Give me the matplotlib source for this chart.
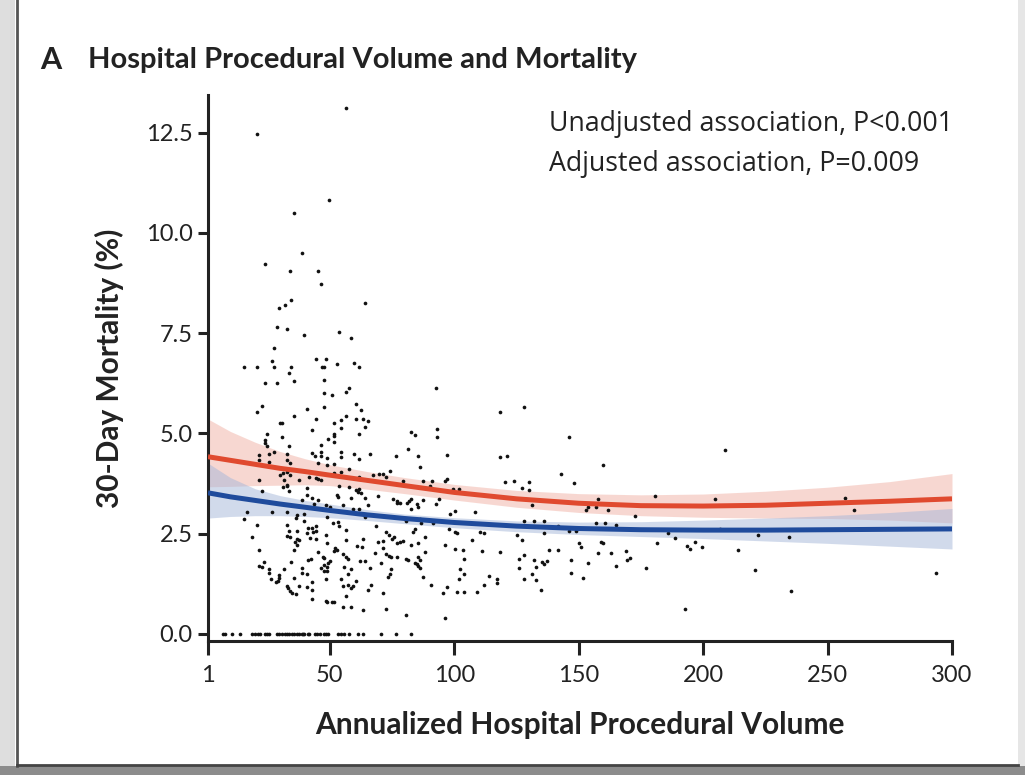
import matplotlib
matplotlib.use('Agg')
import matplotlib.pyplot as plt
from matplotlib.patches import Rectangle
from matplotlib.lines import Line2D

# hospitals with zero deaths (annualized volume)
zero_vol = [7.0, 7.8, 10.6, 13.9, 18.7, 19.9, 21.1, 21.9, 23.9, 24.7, 25.5, 28.7, 29.5,
            30.7, 31.9, 32.8, 33.6, 34.8, 35.6, 36.8, 37.6, 38.8, 39.2, 39.6, 41.3, 41.6,
            44.0, 44.8, 46.0, 47.6, 48.4, 49.2, 53.3, 54.5, 55.7, 57.7, 61.3, 63.3, 70.5,
            76.6, 82.6]

# (volume, 30-day mortality %) for the other hospitals
pts_high = [(56.5, 13.12), (20.7, 12.47), (49.6, 10.83), (35.6, 10.5), (38.8, 9.5),
            (23.9, 9.23), (34.0, 9.05), (45.2, 9.05), (46.4, 8.73), (34.4, 8.33),
            (31.9, 8.2), (29.5, 8.13), (64.1, 8.26), (28.7, 7.66), (32.8, 7.61),
            (39.6, 7.46), (53.7, 7.53), (58.5, 7.38)]

pts_left = [(27.5, 7.13), (15.5, 6.66), (20.7, 6.66), (26.7, 6.81), (27.5, 6.66), (34.4, 6.66),
            (33.6, 6.51), (44.4, 6.86), (48.4, 6.86), (46.8, 6.66), (47.6, 6.66), (35.6, 6.31),
            (23.9, 6.26), (28.7, 6.26), (47.6, 6.33), (47.6, 6.01), (22.7, 5.69), (20.7, 5.54),
            (40.8, 5.61), (47.6, 5.66), (35.6, 5.44), (44.4, 5.36), (29.9, 5.26), (30.7, 5.26),
            (42.8, 5.09), (24.7, 4.99), (30.7, 4.91), (23.9, 4.84), (23.9, 4.76), (24.7, 4.69),
            (33.6, 4.69), (49.2, 4.86), (46.4, 4.71), (21.5, 4.46), (21.5, 4.34), (25.5, 4.49),
            (27.5, 4.54), (25.5, 4.29), (32.8, 4.49), (32.8, 4.34), (42.8, 4.51), (44.0, 4.44),
            (46.4, 4.54), (46.4, 4.44), (48.8, 4.39), (34.0, 4.26), (45.2, 4.26), (48.8, 4.21),
            (29.9, 3.97), (31.1, 4.02), (32.8, 4.04), (34.0, 3.97), (31.5, 3.84), (37.6, 3.84),
            (41.6, 3.92), (44.4, 3.89), (45.2, 3.87), (21.5, 3.84), (40.8, 3.64), (31.1, 3.67),
            (32.8, 3.72)]

pts_mid = [(52.8, 6.73), (59.7, 6.76), (61.7, 6.66), (50.8, 5.96), (56.5, 6.04), (57.7, 6.14),
           (92.6, 6.14), (60.5, 5.74), (62.5, 5.59), (51.6, 5.26), (54.5, 5.34), (56.5, 5.44),
           (60.5, 5.36), (63.3, 5.36), (65.3, 5.31), (64.1, 5.16), (54.5, 5.14), (61.7, 4.99),
           (51.6, 4.99), (51.6, 4.94), (51.6, 4.79), (82.6, 5.04), (84.2, 4.96), (93.0, 5.11),
           (93.0, 4.91), (81.4, 4.61), (54.5, 4.54), (54.5, 4.41), (59.7, 4.49), (61.7, 4.36),
           (66.1, 4.49), (76.6, 4.44), (85.4, 4.44), (97.1, 4.46), (51.6, 4.24), (57.7, 4.11),
           (86.2, 4.16), (54.5, 4.04), (51.6, 4.02), (74.2, 4.06), (67.3, 3.97), (69.7, 3.99),
           (71.3, 3.99), (72.5, 3.92), (61.7, 3.92), (46.4, 3.84), (79.4, 3.82), (87.4, 3.82),
           (91.0, 3.82), (96.3, 3.82), (97.1, 3.87), (53.7, 3.69), (57.7, 3.67), (61.7, 3.62),
           (90.2, 3.69), (99.5, 3.62), (101.9, 3.62)]

pts_low_left = [(22.7, 3.57), (32.8, 3.69), (33.6, 3.57), (38.8, 3.34), (40.8, 3.47), (42.8, 3.39),
                (45.2, 3.34), (43.6, 3.24), (16.7, 3.04), (15.5, 2.87), (26.7, 3.04), (32.8, 3.04),
                (36.4, 2.89), (36.8, 2.97), (39.6, 2.99), (39.6, 2.82), (20.7, 2.72), (32.8, 2.72),
                (18.7, 2.42), (33.6, 2.57), (36.8, 2.57), (32.8, 2.44), (34.0, 2.42), (36.8, 2.37),
                (36.0, 2.29), (37.6, 2.34), (35.6, 2.09), (36.8, 2.22), (41.2, 2.64), (42.8, 2.64),
                (43.2, 2.54), (44.4, 2.57), (40.8, 2.52), (42.0, 2.39), (44.4, 2.37), (44.4, 2.69),
                (48.4, 2.47), (48.8, 2.27), (21.5, 2.09), (45.2, 2.05), (41.2, 1.85), (42.4, 1.87),
                (47.2, 1.92), (34.4, 1.80), (23.5, 1.80), (21.5, 1.70), (22.7, 1.67), (25.5, 1.62),
                (25.5, 1.52), (31.5, 1.62), (38.8, 1.65), (38.8, 1.52), (40.8, 1.50), (46.4, 1.65),
                (47.6, 1.57), (48.8, 1.57), (29.5, 1.47), (29.5, 1.40), (29.1, 1.32), (28.3, 1.30),
                (26.3, 1.37), (35.6, 1.40), (42.8, 1.30), (48.4, 1.37), (37.6, 1.20), (40.8, 1.17),
                (32.8, 1.20), (33.2, 1.15), (34.0, 1.07), (34.8, 1.02), (36.4, 1.00), (42.8, 1.10),
                (42.8, 0.87), (48.8, 0.80)]

pts_low_mid = [(60.5, 3.59), (61.3, 3.54), (62.5, 3.52), (64.1, 3.39), (52.8, 3.47), (53.3, 3.42),
               (58.5, 3.39), (69.3, 3.44), (75.4, 3.37), (77.0, 3.32), (78.2, 3.27), (77.0, 3.27),
               (81.0, 3.27), (81.8, 3.32), (82.6, 3.37), (85.0, 3.24), (85.4, 3.17), (87.4, 3.34),
               (92.6, 3.24), (93.8, 3.37), (48.4, 3.22), (50.0, 3.17), (55.3, 3.22), (65.3, 3.22),
               (59.3, 3.12), (61.7, 3.12), (82.6, 3.12), (100.3, 3.07), (98.3, 2.99), (48.8, 2.92),
               (64.1, 2.92), (51.2, 2.77), (53.3, 2.79), (53.7, 2.69), (68.5, 2.69), (80.6, 2.82),
               (86.2, 2.87), (86.6, 2.77), (91.4, 2.77), (84.2, 2.62), (83.4, 2.54), (97.9, 2.62),
               (100.3, 2.54), (101.1, 2.52), (56.5, 2.59), (72.5, 2.54), (73.7, 2.47), (74.9, 2.37),
               (75.8, 2.42), (77.0, 2.27), (78.2, 2.29), (79.4, 2.32), (56.5, 2.34), (63.3, 2.37),
               (71.3, 2.32), (69.3, 2.29), (88.2, 2.42), (60.9, 2.19), (62.9, 2.17), (82.6, 2.22),
               (85.4, 2.27), (96.3, 2.22), (52.0, 2.14), (52.8, 2.09), (51.6, 2.07), (71.3, 2.14),
               (100.3, 2.12), (103.5, 2.09), (68.1, 2.02), (88.2, 2.05), (55.3, 2.00), (56.5, 1.92),
               (57.3, 1.87), (72.5, 2.00), (73.7, 1.95), (74.6, 1.92), (77.0, 1.92), (85.4, 1.92),
               (86.2, 1.85), (47.6, 1.90), (50.0, 1.82), (49.2, 1.77), (62.1, 1.82), (64.1, 1.82),
               (70.5, 1.77), (80.6, 1.87), (81.4, 1.85), (84.2, 1.77), (85.0, 1.75), (85.4, 1.70),
               (86.2, 1.65), (103.9, 1.87), (47.6, 1.72), (48.8, 1.67), (55.7, 1.67), (66.1, 1.65),
               (74.6, 1.62), (58.5, 1.62), (57.3, 1.50), (74.2, 1.50), (73.3, 1.42), (103.9, 1.50),
               (54.5, 1.37), (60.5, 1.32), (87.4, 1.42), (101.9, 1.37), (55.3, 1.20), (57.3, 1.22),
               (58.5, 1.15), (59.3, 1.20), (66.5, 1.22), (90.6, 1.22), (97.1, 1.17), (65.3, 1.10),
               (71.3, 1.02), (56.5, 0.95), (95.5, 1.02), (101.1, 1.05), (103.9, 1.05), (48.4, 0.82),
               (50.8, 0.80), (51.6, 0.80), (55.3, 0.67), (58.5, 0.67), (63.3, 0.60), (72.5, 0.62),
               (80.6, 0.47), (96.3, 0.40)]

pts_right = [(118.4, 5.54), (128.0, 5.66), (118.4, 4.41), (121.2, 4.44), (146.1, 4.91), (159.8, 4.21),
             (142.9, 3.99), (148.1, 3.77), (120.4, 3.79), (124.0, 3.82), (130.0, 3.79), (127.2, 3.64),
             (130.0, 3.59), (131.2, 3.22), (157.8, 3.37), (152.9, 3.09), (153.7, 3.17), (157.0, 3.17),
             (161.8, 3.09), (180.7, 3.44), (172.6, 2.94), (108.3, 3.04), (128.0, 2.82), (132.0, 2.82),
             (136.1, 2.82), (157.0, 2.77), (160.6, 2.77), (165.0, 2.72), (141.7, 2.69), (110.3, 2.54),
             (111.9, 2.52), (125.2, 2.47), (127.2, 2.34), (136.1, 2.52), (146.1, 2.57), (148.9, 2.57),
             (185.9, 2.52), (188.7, 2.39), (107.1, 2.34), (158.9, 2.29), (159.8, 2.27), (150.1, 2.27),
             (150.9, 2.17), (181.5, 2.27), (193.5, 2.19), (194.7, 2.12), (196.7, 2.29), (199.6, 2.17),
             (111.1, 2.07), (118.4, 2.05), (138.1, 2.09), (141.7, 2.09), (157.8, 2.02), (163.0, 2.02),
             (169.0, 2.07), (128.0, 1.97), (126.0, 1.87), (132.0, 1.85), (137.3, 1.82), (135.2, 1.80),
             (136.1, 1.75), (146.9, 1.85), (153.7, 1.77), (169.4, 1.85), (170.6, 1.90), (126.0, 1.65),
             (132.8, 1.67), (165.0, 1.70), (177.1, 1.65), (102.3, 1.62), (131.2, 1.50), (146.9, 1.52),
             (113.9, 1.45), (117.2, 1.37), (117.2, 1.27), (128.0, 1.37), (132.8, 1.35), (151.7, 1.40),
             (111.9, 1.22), (109.1, 1.05), (134.8, 1.10), (192.7, 0.62),
             (208.8, 4.59), (204.8, 3.37), (257.0, 3.39), (260.6, 3.09), (206.8, 2.62), (222.1, 2.47),
             (234.5, 2.42), (214.0, 2.09), (220.9, 1.60), (235.3, 1.07), (293.6, 1.52)]

# fitted curves with 95% bands
curve_x = [1, 10, 20, 30, 40, 50, 65, 80, 100, 125, 150, 175, 200, 225, 250, 275, 300]
unadj = [4.42, 4.33, 4.23, 4.13, 4.05, 3.96, 3.83, 3.70, 3.53, 3.37, 3.26, 3.20, 3.19, 3.21, 3.26, 3.31, 3.37]
unadj_hi = [5.36, 5.05, 4.78, 4.55, 4.37, 4.22, 4.05, 3.90, 3.73, 3.58, 3.50, 3.47, 3.49, 3.56, 3.66, 3.80, 4.00]
unadj_lo = [3.67, 3.68, 3.70, 3.71, 3.72, 3.70, 3.61, 3.50, 3.34, 3.16, 3.03, 2.95, 2.91, 2.89, 2.88, 2.84, 2.77]
adj = [3.52, 3.42, 3.33, 3.24, 3.16, 3.08, 2.97, 2.88, 2.78, 2.69, 2.63, 2.60, 2.59, 2.59, 2.60, 2.61, 2.62]
adj_hi = [4.26, 3.90, 3.62, 3.45, 3.33, 3.24, 3.10, 2.99, 2.90, 2.82, 2.79, 2.80, 2.84, 2.89, 2.95, 3.03, 3.13]
adj_lo = [2.89, 2.93, 2.95, 2.95, 2.93, 2.90, 2.83, 2.75, 2.65, 2.55, 2.48, 2.43, 2.38, 2.32, 2.26, 2.19, 2.12]

xticks = [1, 50, 100, 150, 200, 250, 300]
yticks = [0.0, 2.5, 5.0, 7.5, 10.0, 12.5]

all_pts = pts_high + pts_left + pts_mid + pts_low_left + pts_low_mid + pts_right
vol = [p[0] for p in all_pts] + zero_vol
mort = [p[1] for p in all_pts] + [0.0] * len(zero_vol)

tick_font = ['Lato', 'DejaVu Sans']
bold_font = ['Lato', 'DejaVu Sans']
note_font = ['Open Sans', 'DejaVu Sans']

fig = plt.figure(figsize=(10.25, 7.75), dpi=100)
fig.patch.set_facecolor('white')
ax = fig.add_axes([208 / 1025, 134 / 775, 744 / 1025, 546 / 775])

ax.fill_between(curve_x, unadj_lo, unadj_hi, color='#f1b1a5', alpha=0.5, lw=0, zorder=1)
ax.fill_between(curve_x, adj_lo, adj_hi, color='#a5b7d9', alpha=0.5, lw=0, zorder=1)
ax.scatter(vol, mort, s=7, color='#111111', lw=0, zorder=2)
ax.plot(curve_x, unadj, color='#e04a2f', lw=3.6, zorder=3, solid_capstyle='butt')
ax.plot(curve_x, adj, color='#1f4b9c', lw=3.6, zorder=3, solid_capstyle='butt')

ax.set_xlim(1, 300)
ax.set_ylim(-0.175, 13.44)
ax.set_xticks(xticks)
ax.set_xticklabels([str(t) for t in xticks])
ax.set_yticks(yticks)
ax.set_yticklabels(['%.1f' % t for t in yticks])

for s in ['top', 'right']:
    ax.spines[s].set_visible(False)
for s in ['left', 'bottom']:
    ax.spines[s].set_linewidth(2.2)
    ax.spines[s].set_color('#222222')
ax.tick_params(axis='x', length=10, width=2.2, color='#222222', pad=7, labelsize=17)
ax.tick_params(axis='y', length=7, width=2.2, color='#222222', pad=4, labelsize=17)
for lab in ax.get_xticklabels() + ax.get_yticklabels():
    lab.set_family(tick_font)
    lab.set_color('#222222')

ax.set_xlabel('Annualized Hospital Procedural Volume', family=bold_font, fontsize=21.5,
              fontweight='bold', color='#222222')
ax.xaxis.set_label_coords(0.5, -0.128)
ax.set_ylabel('30-Day Mortality (%)', family=bold_font, fontsize=21.5,
              fontweight='bold', color='#222222')
ax.yaxis.set_label_coords(-0.113, 0.5)

fig.text(40 / 1025, 1 - 60 / 775, 'A', family=bold_font, fontsize=22, fontweight='bold',
         color='#222222', va='center', ha='left')
fig.text(88 / 1025, 1 - 60 / 775, 'Hospital Procedural Volume and Mortality', family=bold_font,
         fontsize=21, fontweight='bold', color='#222222', va='center', ha='left')

fig.text(549 / 1025, 1 - 124 / 775, 'Unadjusted association, P<0.001', family=note_font,
         fontsize=19.3, color='#222222', va='center', ha='left')
fig.text(549 / 1025, 1 - 164 / 775, 'Adjusted association, P=0.009', family=note_font,
         fontsize=19.3, color='#222222', va='center', ha='left')

# page frame
fig.patches.append(Rectangle((0, 0), 15 / 1025, 1, transform=fig.transFigure,
                             color='#dedede', lw=0, zorder=0))
fig.patches.append(Rectangle((1018 / 1025, 0), 7 / 1025, 1, transform=fig.transFigure,
                             color='#e6e6e6', lw=0, zorder=0))
fig.patches.append(Rectangle((0, 0), 1, 9 / 775, transform=fig.transFigure,
                             color='#8c8c8c', lw=0, zorder=0))
fig.lines.append(Line2D([17 / 1025, 17 / 1025], [9 / 775, 1], transform=fig.transFigure,
                        color='#555555', lw=2))
fig.lines.append(Line2D([17 / 1025, 1018 / 1025], [10 / 775, 10 / 775], transform=fig.transFigure,
                        color='#444444', lw=2))

fig.savefig('out.png', dpi=100)
